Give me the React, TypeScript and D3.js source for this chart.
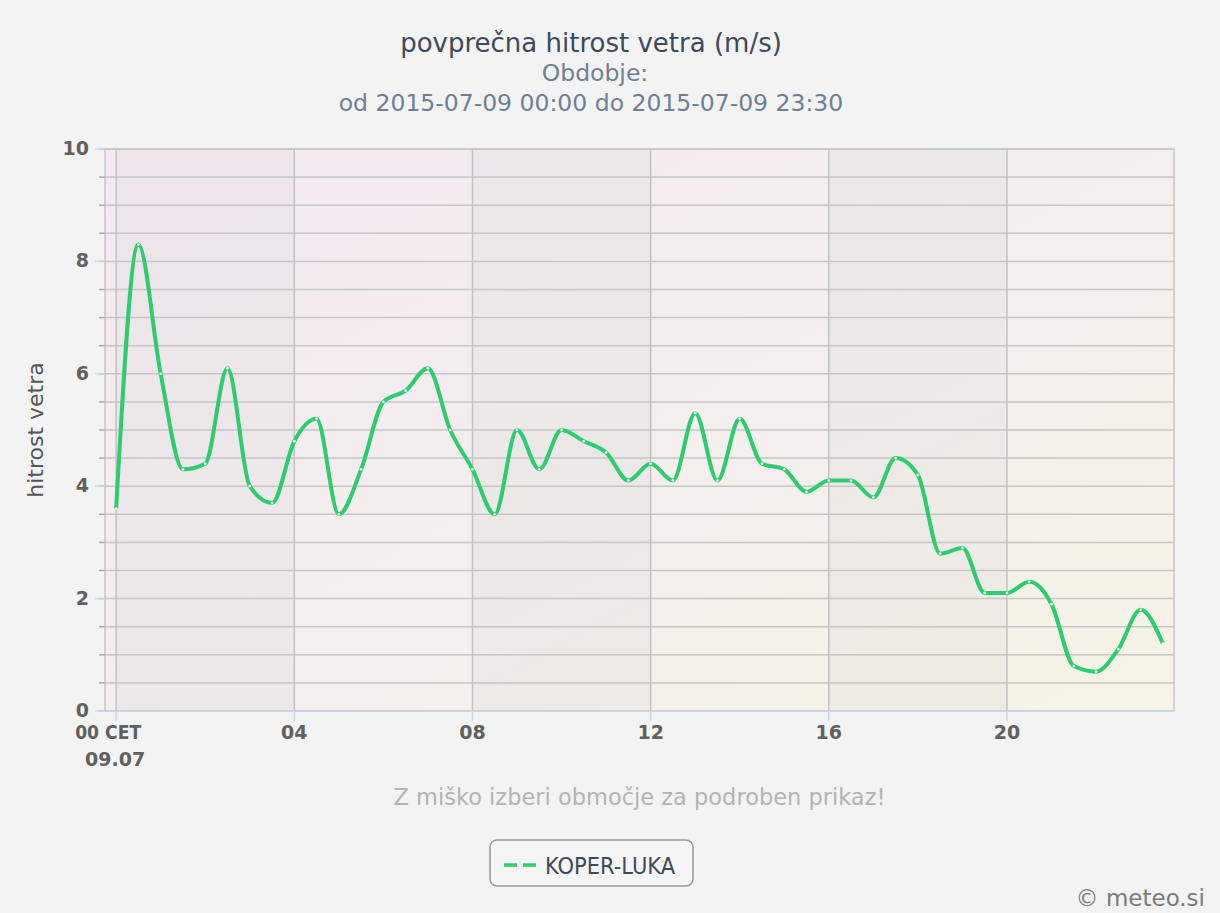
import { useMemo } from "react";
import * as d3 from "d3";

// half-hour averages, 09.07.2015 00:00 .. 23:30
const hours = d3.range(48).map((i) => i * 0.5);
const windSpeed = [
  3.6, 8.3, 6.0, 4.3, 4.4, 6.1, 4.0, 3.7, 4.8, 5.2, 3.5, 4.3,
  5.5, 5.7, 6.1, 5.0, 4.3, 3.5, 5.0, 4.3, 5.0, 4.8, 4.6, 4.1,
  4.4, 4.1, 5.3, 4.1, 5.2, 4.4, 4.3, 3.9, 4.1, 4.1, 3.8, 4.5,
  4.2, 2.8, 2.9, 2.1, 2.1, 2.3, 1.9, 0.8, 0.7, 1.1, 1.8, 1.2,
];
const xTicks = [0, 4, 8, 12, 16, 20];
const xTickLabels = ["00 CET", "04", "08", "12", "16", "20"];
const yTicks = [0, 2, 4, 6, 8, 10];
const bands: [number, number][] = [
  [0, 4],
  [8, 12],
  [16, 20],
];

const W = 1220;
const H = 913;
const plot = { left: 105, right: 1174, top: 149, bottom: 711 };
const textFont = "'DejaVu Sans Condensed', 'DejaVu Sans', sans-serif";
const labelFont = "'DejaVu Sans', sans-serif";

export default function App() {
  const x = useMemo(
    () => d3.scaleLinear().domain([-0.25, 23.75]).range([plot.left, plot.right]),
    []
  );
  const y = useMemo(
    () => d3.scaleLinear().domain([0, 10]).range([plot.bottom, plot.top]),
    []
  );

  const points: [number, number][] = hours.map((h, i) => [x(h), y(windSpeed[i])]);
  const linePath = d3.line().curve(d3.curveMonotoneX)(points) || "";
  const minor = d3.range(0, 10.01, 0.5);

  return (
    <svg
      width={W}
      height={H}
      style={{ position: "absolute", left: 0, top: 0, display: "block" }}
    >
      <defs>
        <linearGradient id="plotBg" x1="0" y1="0" x2="1" y2="1">
          <stop offset="0%" stopColor="#f4e9f1" />
          <stop offset="50%" stopColor="#f4eeee" />
          <stop offset="100%" stopColor="#f5f4e5" />
        </linearGradient>
      </defs>
      <rect x={0} y={0} width={W} height={H} fill="#f3f3f3" />

      {/* titles */}
      <text x={591} y={52} textAnchor="middle" fontFamily={labelFont} fontSize={26} fill="#3d4a5c">
        povprečna hitrost vetra (m/s)
      </text>
      <text x={595} y={81} textAnchor="middle" fontFamily={labelFont} fontSize={23.5} fill="#6f7f95">
        Obdobje:
      </text>
      <text x={591} y={111} textAnchor="middle" fontFamily={labelFont} fontSize={23.5} fill="#6f7f95">
        od 2015-07-09 00:00 do 2015-07-09 23:30
      </text>

      {/* plot background */}
      <rect
        x={plot.left}
        y={plot.top}
        width={plot.right - plot.left}
        height={plot.bottom - plot.top}
        fill="url(#plotBg)"
      />
      {bands.map(([a, b]) => (
        <rect
          key={a}
          x={x(a)}
          y={plot.top}
          width={x(b) - x(a)}
          height={plot.bottom - plot.top}
          fill="#d8d8d8"
          opacity={0.22}
        />
      ))}

      {/* grid */}
      {minor.map((v) => (
        <line
          key={`h${v}`}
          x1={plot.left}
          x2={plot.right}
          y1={y(v)}
          y2={y(v)}
          stroke="#c6c6c6"
          strokeWidth={1.5}
        />
      ))}
      {xTicks.map((t) => (
        <line
          key={`v${t}`}
          x1={x(t)}
          x2={x(t)}
          y1={plot.top}
          y2={plot.bottom}
          stroke="#c2c2c2"
          strokeWidth={1.5}
        />
      ))}
      <rect
        x={plot.left}
        y={plot.top}
        width={plot.right - plot.left}
        height={plot.bottom - plot.top}
        fill="none"
        stroke="#c6c6c6"
        strokeWidth={1.5}
      />

      {/* y axis ticks */}
      {minor.map((v) => (
        <line
          key={`mt${v}`}
          x1={plot.left - 6}
          x2={plot.left}
          y1={y(v)}
          y2={y(v)}
          stroke="#a8a8a8"
          strokeWidth={1.5}
        />
      ))}
      {yTicks.map((v) => (
        <g key={`yt${v}`}>
          <line
            x1={plot.left - 10}
            x2={plot.left}
            y1={y(v)}
            y2={y(v)}
            stroke="#ccd6eb"
            strokeWidth={1.5}
          />
          <text
            x={89}
            y={y(v) + 6}
            textAnchor="end"
            fontFamily={labelFont}
            fontWeight="bold"
            fontSize={19}
            fill="#606060"
          >
            {v}
          </text>
        </g>
      ))}
      <text
        transform={`translate(43,${(plot.top + plot.bottom) / 2}) rotate(-90)`}
        textAnchor="middle"
        fontFamily={labelFont}
        fontSize={22}
        fill="#555"
      >
        hitrost vetra
      </text>

      {/* x axis */}
      <line
        x1={plot.left - 4}
        x2={plot.right}
        y1={plot.bottom}
        y2={plot.bottom}
        stroke="#ccd6eb"
        strokeWidth={1.5}
      />
      {xTicks.map((t, i) => (
        <g key={`xt${t}`}>
          <line
            x1={x(t)}
            x2={x(t)}
            y1={plot.bottom}
            y2={plot.bottom + 10}
            stroke="#ccd6eb"
            strokeWidth={1.5}
          />
          <text
            x={i === 0 ? x(t) - 8 : x(t)}
            y={plot.bottom + 28}
            textAnchor="middle"
            fontFamily={labelFont}
            fontWeight="bold"
            fontSize={19}
            fill="#606060"
            textLength={i === 0 ? 66 : undefined}
            lengthAdjust={i === 0 ? "spacingAndGlyphs" : undefined}
          >
            {xTickLabels[i]}
          </text>
        </g>
      ))}
      <text
        x={x(0) - 1}
        y={plot.bottom + 55}
        textAnchor="middle"
        fontFamily={labelFont}
        fontWeight="bold"
        fontSize={19}
        fill="#606060"
      >
        09.07
      </text>

      {/* series */}
      <path
        d={linePath}
        fill="none"
        stroke="#2ecc71"
        strokeWidth={4}
        strokeLinejoin="round"
      />
      {points.map(([px, py], i) => (
        <circle key={`p${i}`} cx={px} cy={py} r={1.4} fill="#ffffff" opacity={0.85} />
      ))}

      <text
        x={(plot.left + plot.right) / 2}
        y={805}
        textAnchor="middle"
        fontFamily={labelFont}
        fontSize={22.5}
        fill="#b3b3b3"
      >
        Z miško izberi območje za podroben prikaz!
      </text>

      {/* legend */}
      <rect
        x={490}
        y={840}
        width={203}
        height={46}
        rx={7}
        fill="#f5f5f5"
        stroke="#999"
        strokeWidth={1.5}
      />
      <line
        x1={504}
        x2={536}
        y1={865}
        y2={865}
        stroke="#2ecc71"
        strokeWidth={3.5}
        strokeDasharray="13,6"
      />
      <text x={545} y={874} fontFamily={textFont} fontSize={23.4} fill="#3d4a5c">
        KOPER-LUKA
      </text>

      <text x={1205} y={906} textAnchor="end" fontFamily={labelFont} fontSize={23} fill="#7a7a7a">
        © meteo.si
      </text>
    </svg>
  );
}
